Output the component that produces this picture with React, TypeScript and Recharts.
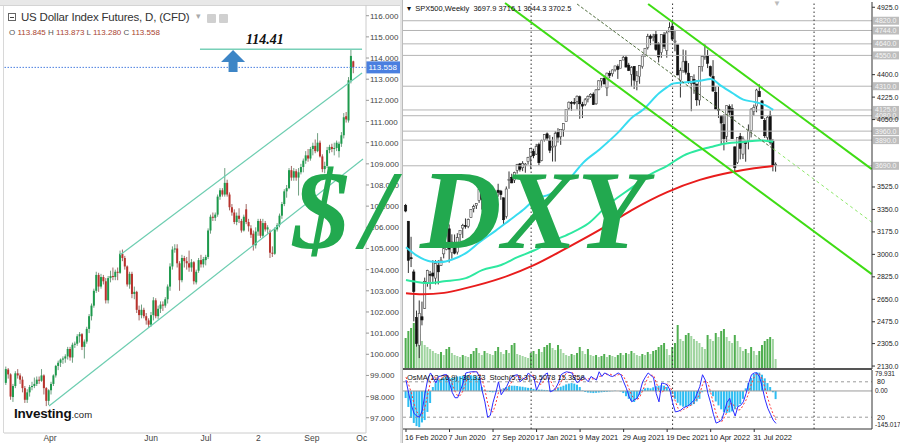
import React from 'react';
import { ComposedChart, Bar, Line, XAxis, YAxis, ReferenceLine, ReferenceDot, Cell } from 'recharts';

const SANS = '"Liberation Sans", Arial, sans-serif';
const SERIF = '"Liberation Serif", "Times New Roman", serif';

// ---------------- Left panel: US Dollar Index Futures, daily (o, h, l, c) ----------------
const dxyOHLC: [number, number, number, number][] = [
  [98.65, 99.42, 98.55, 99.3], [99.28, 99.35, 98.85, 99.05], [99.05, 99.1, 97.85, 98.0], [97.98, 98.6, 97.75, 98.5],
  [98.5, 99.2, 98.4, 99.1], [99.1, 99.3, 98.85, 99.0], [99.0, 99.1, 98.6, 98.8], [98.8, 98.95, 98.2, 98.4],
  [98.4, 98.5, 97.7, 97.85], [97.85, 98.35, 97.7, 98.2], [98.2, 98.55, 98.0, 98.45], [98.45, 98.7, 98.3, 98.5],
  [98.5, 98.9, 98.4, 98.6], [98.6, 98.95, 98.5, 98.8], [98.8, 98.95, 98.6, 98.75], [98.75, 99.3, 98.7, 99.0],
  [99.0, 99.05, 98.1, 98.4], [98.4, 98.45, 97.55, 97.8], [97.8, 98.35, 97.6, 98.3],
  [98.3, 98.7, 98.1, 98.6], [98.6, 99.05, 98.5, 99.0], [99.0, 99.5, 98.9, 99.45], [99.45, 99.7, 99.25, 99.6],
  [99.6, 99.8, 99.4, 99.75], [99.75, 99.9, 99.55, 99.8], [99.8, 100.0, 99.6, 99.9], [99.9, 100.35, 99.75, 100.25],
  [100.25, 100.35, 99.7, 99.85], [99.85, 100.55, 99.6, 100.45], [100.45, 100.6, 100.3, 100.5], [100.5, 100.95, 100.4, 100.85],
  [100.85, 101.05, 100.55, 100.95], [100.95, 101.0, 100.2, 100.35], [100.35, 100.7, 99.8, 100.6], [100.6, 101.3, 100.5, 101.2],
  [101.2, 101.9, 101.0, 101.8], [101.8, 102.4, 101.6, 102.3], [102.3, 103.1, 102.2, 103.0], [103.0, 103.9, 102.9, 103.75],
  [103.75, 103.85, 102.95, 103.2],
  [103.2, 103.8, 103.1, 103.65], [103.65, 103.75, 103.3, 103.45], [103.45, 103.6, 102.4, 102.55], [102.55, 103.7, 102.4, 103.6],
  [103.6, 103.95, 103.4, 103.7], [103.7, 104.1, 103.5, 103.65], [103.65, 104.0, 103.5, 103.9], [103.9, 104.1, 103.5, 103.85],
  [103.85, 104.9, 103.8, 104.75], [104.75, 104.95, 104.4, 104.55], [104.55, 104.65, 104.0, 104.15], [104.15, 104.2, 103.2, 103.3],
  [103.3, 103.9, 103.1, 103.8], [103.8, 103.9, 102.65, 102.85], [102.85, 103.2, 102.6, 102.95], [102.95, 103.0, 101.95, 102.1],
  [102.1, 102.3, 101.6, 101.85], [101.85, 102.35, 101.7, 102.1], [102.1, 102.2, 101.7, 101.8], [101.8, 101.95, 101.4, 101.6],
  [101.6, 101.7, 101.25, 101.4], [101.4, 102.0, 101.3, 101.85],
  [101.85, 102.7, 101.6, 102.55], [102.55, 102.65, 101.7, 101.8], [101.8, 102.3, 101.65, 102.15], [102.15, 102.5, 101.95, 102.35],
  [102.35, 102.5, 102.05, 102.3], [102.3, 102.7, 102.2, 102.6], [102.6, 103.3, 102.4, 103.2], [103.2, 104.3, 103.0, 104.15],
  [104.15, 105.1, 104.0, 104.95], [104.95, 105.2, 104.8, 105.0], [105.0, 105.2, 104.1, 104.3], [104.3, 104.4, 103.0, 103.5],
  [103.5, 104.7, 103.4, 104.55], [104.55, 104.65, 104.1, 104.4], [104.4, 104.6, 104.0, 104.3], [104.3, 104.9, 103.9, 104.1],
  [104.1, 104.5, 103.9, 104.35], [104.35, 104.4, 103.3, 103.45], [103.4, 104.0, 103.3, 103.9], [103.95, 104.55, 103.85, 104.45],
  [104.45, 104.7, 104.1, 104.25], [104.25, 104.6, 104.1, 104.5],
  [104.45, 104.7, 104.2, 104.6], [104.6, 105.95, 104.5, 105.85], [105.85, 106.6, 105.7, 106.5], [106.5, 106.7, 106.3, 106.45],
  [106.45, 106.7, 106.3, 106.6], [106.6, 107.55, 106.5, 107.45], [107.45, 107.85, 107.3, 107.75], [107.75, 107.85, 107.45, 107.55],
  [107.55, 108.8, 107.45, 108.1], [108.1, 108.25, 107.45, 107.55], [107.55, 107.65, 106.8, 106.95], [106.95, 107.1, 106.55, 106.7],
  [106.7, 106.85, 106.15, 106.25], [106.25, 106.7, 106.1, 106.55], [106.55, 106.9, 106.2, 106.4], [106.3, 106.4, 105.75, 105.85],
  [105.85, 106.6, 105.8, 106.5], [106.85, 107.1, 106.15, 106.25], [106.25, 106.4, 105.8, 106.05], [105.95, 106.1, 105.5, 105.65],
  [105.7, 105.85, 104.9, 105.15], [105.15, 106.0, 105.0, 105.8], [105.8, 106.4, 105.6, 106.3], [106.3, 106.4, 105.5, 105.6],
  [105.6, 106.4, 105.5, 106.2], [106.2, 106.3, 105.8, 105.9], [105.9, 106.1, 105.7, 106.0], [105.8, 105.9, 104.55, 104.8],
  [104.8, 105.1, 104.6, 104.75], [104.75, 106.0, 104.7, 105.9], [105.9, 106.2, 105.8, 106.1], [106.1, 106.65, 106.0, 106.55],
  [106.55, 107.2, 106.4, 107.1], [107.1, 107.8, 107.0, 107.7], [107.7, 108.0, 107.4, 107.85], [107.85, 108.8, 107.8, 108.7],
  [108.7, 108.9, 108.2, 108.35], [108.35, 108.8, 108.2, 108.65], [108.65, 108.75, 108.2, 108.35], [108.35, 108.8, 107.5, 108.6],
  [108.6, 109.0, 108.5, 108.85], [108.85, 109.25, 108.6, 109.15], [109.15, 109.6, 109.0, 109.4], [109.4, 109.7, 109.1, 109.25],
  [109.25, 109.8, 109.15, 109.7], [109.7, 110.0, 109.4, 109.85], [109.85, 110.15, 109.5, 109.6], [109.6, 110.45, 109.55, 110.0],
  [110.0, 110.1, 109.3, 109.35], [109.35, 109.45, 108.6, 108.75], [108.75, 109.1, 108.55, 108.9], [108.9, 109.8, 108.8, 109.65],
  [109.65, 109.9, 109.5, 109.8], [109.8, 109.95, 109.55, 109.7], [109.7, 110.0, 109.4, 109.75], [109.75, 110.1, 109.6, 110.0],
  [109.6, 110.05, 109.3, 109.95], [109.95, 110.5, 109.8, 110.35], [110.35, 111.4, 110.2, 111.2], [111.25, 111.45, 110.95, 111.1],
  [111.05, 113.1, 110.95, 112.95], [112.95, 114.41, 112.8, 114.1], [113.845, 113.873, 113.28, 113.558],
];
const dxyTickIdx = [18.5, 61, 84, 106, 128.5, 149.5];
const dxyTickLabels = ['Apr', 'Jun', 'Jul', '2', 'Sep', 'Oc'];
const dxyYTicks = [97, 98, 99, 100, 101, 102, 103, 104, 105, 106, 107, 108, 109, 110, 111, 112, 113, 114, 115, 116];
const dxyLast = 113.558;
const dxyPeak = 114.41;
const dxyPeakSpan = [81.5, 149.6];
const dxyChannelLow = [[18.07, 97.555], [150, 109.23]];
const dxyChannelHigh = [[47.9, 104.69], [149.6, 113.29]];
const dxyArrowAt = [95.4, 113.81];

// ---------------- Right panel: SPX500 weekly ----------------
const spxOHLC: [number, number, number, number][] = [
  [3380, 3393, 3328, 3338], [3258, 3260, 2855, 2954], [2974, 3137, 2901, 2972], [2863, 2882, 2478, 2711], [2508, 2562, 2281, 2305],
  [2291, 2641, 2192, 2541], [2514, 2632, 2447, 2489], [2579, 2819, 2575, 2790], [2782, 2880, 2748, 2875], [2845, 2871, 2727, 2837],
  [2855, 2955, 2785, 2831], [2815, 2955, 2766, 2930], [2915, 2955, 2766, 2864], [2914, 2980, 2910, 2955], [3004, 3068, 2969, 3044],
  [3038, 3211, 3032, 3194], [3199, 3233, 2936, 3041], [3014, 3156, 2966, 3097], [3094, 3155, 3000, 3009], [3018, 3165, 2999, 3130],
  [3155, 3184, 3101, 3185], [3205, 3238, 3127, 3224], [3224, 3280, 3200, 3216], [3219, 3279, 3204, 3271], [3288, 3352, 3284, 3351],
  [3356, 3387, 3327, 3372], [3380, 3399, 3354, 3397], [3419, 3509, 3401, 3508], [3509, 3588, 3349, 3426], [3369, 3425, 3293, 3341],
  [3363, 3429, 3317, 3319], [3295, 3320, 3209, 3298], [3334, 3393, 3324, 3348], [3367, 3482, 3345, 3477], [3500, 3550, 3449, 3483],
  [3493, 3502, 3425, 3465], [3441, 3441, 3233, 3270], [3296, 3529, 3279, 3509], [3583, 3646, 3511, 3585], [3600, 3628, 3554, 3557],
  [3579, 3644, 3556, 3638], [3654, 3705, 3629, 3699], [3705, 3712, 3645, 3663], [3675, 3726, 3648, 3709], [3693, 3712, 3636, 3703],
  [3723, 3760, 3699, 3756], [3764, 3827, 3663, 3824], [3803, 3823, 3749, 3768], [3781, 3861, 3775, 3841], [3855, 3870, 3694, 3714],
  [3731, 3894, 3725, 3886], [3892, 3937, 3879, 3934], [3939, 3950, 3884, 3906], [3886, 3929, 3789, 3811], [3842, 3915, 3723, 3842],
  [3844, 3960, 3723, 3943], [3949, 3983, 3871, 3913], [3916, 3956, 3853, 3974], [3969, 4020, 3917, 4019], [4034, 4130, 4034, 4128],
  [4139, 4191, 4124, 4185], [4183, 4194, 4118, 4180], [4185, 4218, 4165, 4181], [4192, 4238, 4129, 4232], [4228, 4237, 4056, 4173],
  [4169, 4188, 4062, 4155], [4168, 4218, 4155, 4204], [4210, 4238, 4184, 4230], [4230, 4255, 4218, 4247], [4248, 4262, 4165, 4166],
  [4173, 4287, 4165, 4281], [4285, 4356, 4278, 4352], [4351, 4372, 4301, 4370], [4372, 4393, 4328, 4327], [4297, 4415, 4233, 4412],
  [4409, 4430, 4372, 4395], [4407, 4440, 4385, 4437], [4437, 4469, 4424, 4468], [4462, 4480, 4367, 4441], [4450, 4513, 4450, 4509],
  [4514, 4546, 4513, 4535], [4535, 4549, 4458, 4459], [4474, 4492, 4428, 4433], [4402, 4466, 4306, 4455], [4465, 4466, 4288, 4357],
  [4348, 4429, 4278, 4391], [4385, 4475, 4329, 4471], [4463, 4559, 4447, 4545], [4553, 4608, 4537, 4605], [4610, 4718, 4596, 4697],
  [4701, 4714, 4630, 4682], [4689, 4718, 4660, 4698], [4712, 4743, 4586, 4595], [4640, 4652, 4495, 4538], [4572, 4713, 4531, 4712],
  [4710, 4732, 4600, 4620], [4588, 4740, 4532, 4725], [4733, 4808, 4733, 4766], [4778, 4818, 4662, 4677], [4655, 4749, 4582, 4662],
  [4632, 4632, 4395, 4398], [4357, 4454, 4222, 4432], [4431, 4596, 4415, 4500], [4505, 4590, 4401, 4419], [4412, 4490, 4329, 4349],
  [4332, 4385, 4115, 4385], [4363, 4402, 4251, 4329], [4327, 4327, 4157, 4204], [4202, 4465, 4161, 4463], [4462, 4546, 4424, 4543],
  [4541, 4637, 4516, 4545], [4547, 4594, 4451, 4488], [4462, 4471, 4381, 4392], [4385, 4513, 4268, 4272], [4262, 4308, 4129, 4132],
  [4130, 4307, 4063, 4123], [4082, 4082, 3859, 4023], [4013, 4091, 3810, 3901], [3920, 4159, 3875, 4158], [4151, 4168, 4074, 4108],
  [4135, 4169, 3901, 3901], [3838, 3838, 3637, 3675], [3715, 3913, 3705, 3912], [3920, 3946, 3740, 3825], [3781, 3919, 3743, 3899],
  [3880, 3886, 3722, 3863], [3883, 4012, 3818, 3962], [3966, 4140, 3911, 4130], [4112, 4167, 4079, 4145], [4155, 4290, 4107, 4280],
  [4270, 4325, 4260, 4228], [4195, 4203, 4057, 4057], [4043, 4062, 3907, 3924], [3910, 4077, 3887, 4068], [4084, 4119, 3855, 3873],
  [3880, 3899, 3647, 3693], [3697.9, 3716.1, 3644.3, 3702.5],
];
const spxVolume = [
  31, 38, 41, 46, 40, 35, 28, 24, 22, 20,
  18, 16, 15, 17, 14, 20, 22, 16, 14, 13,
  12, 14, 13, 12, 15, 18, 21, 16, 14, 18,
  16, 15, 14, 18, 22, 17, 15, 19, 16, 24,
  26, 15, 14, 13, 12, 11, 16, 18, 15, 20,
  17, 22, 24, 26, 21, 19, 24, 20, 16, 14,
  13, 15, 14, 16, 22, 18, 15, 20, 14, 13,
  14, 12, 13, 15, 12, 14, 13, 12, 14, 16,
  14, 16, 15, 18, 16, 14, 13, 15, 14, 17,
  15, 18, 19, 22, 24, 26, 20, 14, 22, 26,
  44, 30, 28, 34, 36, 33, 30, 28, 26, 22,
  20, 34, 30, 28, 36, 32, 38, 40, 32, 28,
  26, 34, 28, 22, 18, 20, 16, 22, 18, 14,
  18, 24, 28, 30, 32, 30, 10,
];
const spxOsma = [
  -27, -61, -103, -122, -134, -138, -120, -111, -80, -46,
  15, 30, 42, 46, 50, 53, 52, 50, 52, 55,
  56, 58, 60, 61, 60, 58, 55, 50, 15, 4,
  -2, -4, -5, -3, 2, 5, 10, 15, 18, 20,
  20, 19, 17, 16, 14, 12, 10, 8, 6, 5,
  5, 4, 3, 4, 3, 4, 12, 16, 20, 25,
  28, 30, 28, 24, 15, 2, -4, -6, -7, -8,
  -7, -6, -5, -4, -3, -2, -1, 1, 0, -2,
  -8, -20, -30, -38, -42, -30, -15, 5, 10, 12,
  10, 14, 18, 20, 22, 20, 15, 5, -12, -30,
  -45, -55, -60, -61, -58, -55, -50, -40, -30, -5,
  2, 0, -5, -20, -40, -55, -70, -80, -84, -82,
  -78, -70, -60, -50, -30, 10, 30, 50, 65, 72,
  70, 62, 48, 30, 15, -5, -31,
];
const spxStochMain = [
  83, 60, 40, 26, 22, 20, 32, 60, 85, 95,
  87, 78, 89, 90, 92, 92, 78, 62, 53, 53,
  65, 78, 95, 96, 97, 97, 97, 89, 65, 46,
  20, 23, 45, 61, 80, 58, 65, 72, 82, 89,
  91, 92, 80, 85, 87, 95, 90, 87, 66, 76,
  87, 92, 95, 63, 65, 69, 78, 92, 95, 97,
  96, 95, 85, 78, 83, 89, 85, 80, 89, 86,
  83, 97, 89, 95, 93, 90, 89, 92, 95, 92,
  80, 69, 55, 46, 50, 52, 63, 80, 88, 95,
  91, 87, 60, 46, 78, 77, 75, 66, 45, 29,
  30, 32, 36, 38, 40, 45, 49, 60, 72, 92,
  83, 60, 44, 25, 10, 12, 15, 29, 45, 52,
  35, 22, 38, 40, 46, 60, 78, 92, 95, 95,
  88, 70, 50, 35, 25, 15, 9.5,
];
const spxStochSignal = [
  88, 75, 61, 42, 29, 23, 25, 37, 59, 80,
  89, 87, 85, 86, 90, 91, 87, 77, 64, 56,
  57, 65, 79, 90, 96, 97, 97, 94, 84, 67,
  44, 30, 29, 43, 62, 66, 68, 65, 73, 81,
  87, 91, 88, 86, 84, 89, 91, 91, 81, 76,
  76, 85, 91, 83, 74, 66, 71, 80, 88, 95,
  96, 96, 92, 86, 82, 83, 86, 85, 85, 85,
  86, 89, 90, 94, 92, 93, 91, 90, 92, 93,
  89, 80, 68, 57, 50, 49, 55, 65, 77, 88,
  91, 91, 79, 64, 61, 67, 77, 73, 62, 47,
  35, 30, 33, 35, 38, 41, 45, 51, 60, 75,
  82, 78, 62, 43, 26, 16, 12, 19, 29, 42,
  44, 36, 32, 33, 41, 49, 61, 77, 88, 94,
  93, 84, 69, 52, 37, 25, 15.4,
];
// moving averages, read at a few weeks each: [week index, value]
const maFast: [number, number][] = [
  [0, 3055], [4, 2990], [9, 2945], [13, 2940], [17, 2960], [22, 3010], [27, 3094], [33, 3185], [38, 3265], [43, 3345],
  [47, 3421], [53, 3470], [57, 3522], [61, 3610], [65, 3711], [71, 3815], [78, 3950], [83, 4065], [87, 4124], [93, 4255],
  [96, 4303], [98, 4330], [104, 4343], [108, 4352], [112, 4366], [116, 4310], [120, 4257], [124, 4205], [128, 4188],
  [132, 4162], [135, 4125],
];
const maMid: [number, number][] = [
  [0, 2800], [4, 2785], [8, 2776], [14, 2790], [22, 2815], [28, 2877], [35, 2917], [41, 2978], [47, 3030], [53, 3095],
  [60, 3160], [67, 3240], [74, 3380], [83, 3520], [90, 3625], [96, 3690], [102, 3770], [108, 3815], [112, 3836],
  [116, 3858], [124, 3875], [130, 3888], [135, 3878],
];
const maSlow: [number, number][] = [
  [0, 2698], [6, 2690], [14, 2700], [22, 2737], [35, 2815], [47, 2916], [59, 3049], [71, 3189], [83, 3345], [96, 3485],
  [108, 3580], [120, 3641], [128, 3670], [135, 3688],
];
const spxLevels = [4820, 4744, 4640, 4550, 4310, 4125, 4080, 3960, 3890, 3690];
const spxYTicks = [4925, 4400, 4225, 4050, 3525, 3350, 3175, 3000, 2825, 2650, 2475, 2305, 2130];
const spxTickIdx = [0, 16, 32, 48, 64, 80, 96, 112, 128];
const spxTickLabels = ['16 Feb 2020', '7 Jun 2020', '27 Sep 2020', '17 Jan 2021', '9 May 2021', '29 Aug 2021', '19 Dec 2021', '10 Apr 2022', '31 Jul 2022'];
const spxYearLines = [46, 98, 150];
const spxChannelA = [[36.4, 4958], [171.2, 2846]];
const spxChannelB = [[89, 4950], [171.2, 3664]];
const spxMidline = [[62.9, 4950], [135, 3821]];
const spxMidlineExt = [[135, 3821], [171.2, 3251]];

// ---------------- tables built for the library ----------------
const dxyData = dxyOHLC.map((d, i) => ({ i, o: d[0], h: d[1], l: d[2], c: d[3] }));
const toMap = (arr: [number, number][]) => new Map(arr.map(([k, v]) => [k, v]));
const fastMap = toMap(maFast);
const midMap = toMap(maMid);
const slowMap = toMap(maSlow);
const spxData = spxOHLC.map((d, i) => ({
  i, o: d[0], h: d[1], l: d[2], c: d[3],
  v: spxVolume[i],
  osma: spxOsma[i],
  sm: spxStochMain[i],
  ss: spxStochSignal[i],
  fast: fastMap.has(i) ? fastMap.get(i) : null,
  mid: midMap.has(i) ? midMap.get(i) : null,
  slow: slowMap.has(i) ? slowMap.get(i) : null,
}));

const seg = (s: number[][]) => [{ x: s[0][0], y: s[0][1] }, { x: s[1][0], y: s[1][1] }];

// ---------------- shapes ----------------
const candleGeom = (p: any) => {
  const { x, y, width, height, payload } = p;
  const top = Math.min(y, y + height);
  const span = Math.abs(height);
  const k = payload.h > payload.l ? span / (payload.h - payload.l) : 0;
  const Y = (v: number) => top + (payload.h - v) * k;
  return { cx: x + width / 2, top, span, Y };
};

const DxyCandle = (p: any) => {
  if (!p.payload) return null;
  const { o, c } = p.payload;
  const { cx, top, span, Y } = candleGeom(p);
  const up = c >= o;
  const bt = Y(Math.max(o, c));
  const bb = Y(Math.min(o, c));
  return (
    <g>
      <line x1={cx} x2={cx} y1={top} y2={top + span} stroke={up ? '#6f9f80' : '#a06a66'} strokeWidth={1} />
      <rect x={cx - 1} y={bt} width={2} height={Math.max(1, bb - bt)} fill={up ? '#1d9a4c' : '#b8322c'} />
    </g>
  );
};

const SpxCandle = (p: any) => {
  if (!p.payload) return null;
  const { o, c } = p.payload;
  const { cx, top, span, Y } = candleGeom(p);
  const up = c >= o;
  const bt = Y(Math.max(o, c));
  const bb = Y(Math.min(o, c));
  return (
    <g>
      <line x1={cx} x2={cx} y1={top} y2={top + span} stroke="#333" strokeWidth={1} />
      <rect x={cx - 1.1} y={bt} width={2.2} height={Math.max(1, bb - bt)} fill={up ? '#f4f4f4' : '#111'} stroke={up ? '#444' : '#111'} strokeWidth={0.6} />
    </g>
  );
};

const Arrow = (p: any) => {
  const { cx, cy } = p;
  if (cx == null) return null;
  const d = `M ${cx} ${cy - 12} L ${cx + 12} ${cy} L ${cx + 4.5} ${cy} L ${cx + 4.5} ${cy + 10} L ${cx - 4.5} ${cy + 10} L ${cx - 4.5} ${cy} L ${cx - 12} ${cy} Z`;
  return <path d={d} fill="#3d85c6" />;
};

// ---------------- ticks & labels ----------------
const LeftYTick = (p: any) => (
  <g>
    <line x1={366} x2={369} y1={p.y} y2={p.y} stroke="#999" />
    <text x={370} y={p.y + 3} fontSize={8} fill="#444" fontFamily={SANS}>{Number(p.payload.value).toFixed(3)}</text>
  </g>
);
const LeftXTick = (p: any) => {
  const k = dxyTickIdx.indexOf(p.payload.value);
  return <text x={p.x} y={441} textAnchor="middle" fontSize={8.5} fill="#444" fontFamily={SANS}>{dxyTickLabels[k]}</text>;
};
const LastPriceTag = (p: any) => {
  const vb = p.viewBox;
  if (!vb) return null;
  const x = vb.x + vb.width;
  return (
    <g>
      <rect x={x} y={vb.y - 6} width={34} height={12} fill="#4a7fe0" />
      <text x={x + 2.5} y={vb.y + 3} fontSize={8} fill="#fff" fontFamily={SANS}>{dxyLast.toFixed(3)}</text>
    </g>
  );
};
const PeakLabel = (p: any) => {
  const vb = p.viewBox;
  if (!vb) return null;
  return (
    <text x={vb.x + vb.width * 0.4} y={vb.y - 5} textAnchor="middle" fontSize={14} fontWeight="bold" fontStyle="italic" fill="#111" fontFamily={SERIF}>
      {dxyPeak.toFixed(2)}
    </text>
  );
};
const RightYTick = (p: any) => (
  <g>
    <line x1={469} x2={472} y1={p.y} y2={p.y} stroke="#333" />
    <text x={474} y={p.y + 2.5} fontSize={7} fill="#222" fontFamily={SANS}>{Number(p.payload.value).toFixed(1)}</text>
  </g>
);
const LevelTag = (p: any) => {
  const vb = p.viewBox;
  if (!vb) return null;
  const x = vb.x + vb.width;
  return (
    <g>
      <rect x={x + 1} y={vb.y - 4} width={26} height={8} fill="#bdbdbd" />
      <text x={x + 3} y={vb.y + 2.5} fontSize={7} fill="#f6f6f6" fontFamily={SANS}>{p.val.toFixed(1)}</text>
    </g>
  );
};
const OscYTick = (p: any) => {
  const v = Number(p.payload.value);
  const yy = Math.min(Math.max(p.y, 4), 55);
  return <text x={472} y={yy + 2.5} fontSize={6.5} fill="#222" fontFamily={SANS}>{v === 0 ? '0.00' : v.toFixed(3)}</text>;
};
const StochTag = (p: any) => {
  const vb = p.viewBox;
  if (!vb) return null;
  return <text x={vb.x + vb.width + 5} y={vb.y + 2.5} fontSize={7} fill="#222" fontFamily={SANS}>{p.val}</text>;
};
const RightXTick = (p: any) => {
  const k = spxTickIdx.indexOf(p.payload.value);
  return <text x={p.x - 1} y={71} textAnchor="start" fontSize={7.5} fill="#222" fontFamily={SANS}>{spxTickLabels[k]}</text>;
};

const abs = (l: number, t: number, extra: any = {}) => ({ position: 'absolute' as const, left: l, top: t, ...extra });
const bigText = { fontFamily: SERIF, fontSize: 113, fontWeight: 'bold', fontStyle: 'italic', color: '#22a94f', lineHeight: '113px', whiteSpace: 'nowrap' };

export default function App() {
  const XD: [number, number] = [-1.1, 171.3];
  return (
    <div style={{ position: 'absolute', left: 0, top: 0, width: 900, height: 443, background: '#fff', overflow: 'hidden', fontFamily: SANS }}>
      {/* chrome */}
      <div style={abs(0, 0, { width: 400, height: 5, background: '#e8e8e8', borderBottom: '1px solid #d4d4d4' })} />
      <div style={abs(3, 6, { width: 1, height: 427, background: '#d8d8d8' })} />
      <div style={abs(400, 0, { width: 3, height: 443, background: '#e4e4e4' })} />

      {/* Left chart */}
      <div style={abs(0, 0)}>
        <ComposedChart width={400} height={443} data={dxyData} margin={{ top: 5, right: 0, bottom: 0, left: 4 }}>
          <XAxis dataKey="i" type="number" domain={[-0.84, 151.26]} allowDataOverflow ticks={dxyTickIdx} interval={0}
            tick={<LeftXTick />} height={10} axisLine={{ stroke: '#ccc' }} tickLine={false} />
          <YAxis orientation="right" type="number" domain={[96.28, 116.506]} allowDataOverflow ticks={dxyYTicks} interval={0}
            width={34} tick={<LeftYTick />} axisLine={{ stroke: '#ccc' }} tickLine={false} />
          <ReferenceLine segment={seg(dxyChannelLow)} stroke="#6ccdb0" strokeWidth={1.2} />
          <ReferenceLine segment={seg(dxyChannelHigh)} stroke="#6ccdb0" strokeWidth={1.2} />
          <ReferenceLine y={dxyLast} stroke="#4a7fe0" strokeDasharray="1.5 1.5" strokeWidth={1} label={<LastPriceTag />} />
          <Bar dataKey={(d: any) => [d.l, d.h]} barSize={2} shape={<DxyCandle />} isAnimationActive={false} />
          <ReferenceLine segment={[{ x: dxyPeakSpan[0], y: dxyPeak }, { x: dxyPeakSpan[1], y: dxyPeak }]} stroke="#78d0b8" strokeWidth={1.5} label={<PeakLabel />} />
          <ReferenceDot x={dxyArrowAt[0]} y={dxyArrowAt[1]} r={1} shape={<Arrow />} />
        </ComposedChart>
      </div>

      {/* Left chart text */}
      <div style={abs(8, 13, { width: 8, height: 8, border: '1px solid #666', boxSizing: 'border-box' })}>
        <div style={abs(1, 2.5, { width: 4, height: 1, background: '#444' })} />
      </div>
      <div style={abs(21, 11, { fontSize: 11.5, color: '#333', whiteSpace: 'nowrap', letterSpacing: -0.2 })}>US Dollar Index Futures, D, (CFD)</div>
      <div style={abs(196, 11, { fontSize: 9, color: '#aaa' })}>▾</div>
      <div style={abs(207, 14, { width: 9, height: 9, background: '#d0d0d0', borderRadius: 1 })} />
      <div style={abs(219, 14, { width: 9, height: 9, background: '#d0d0d0', borderRadius: 1 })} />
      <div style={abs(9, 28, { fontSize: 8, color: '#a9432f', whiteSpace: 'nowrap' })}>
        <span style={{ color: '#555' }}>O</span> 113.845 <span style={{ color: '#555' }}>H</span> 113.873{' '}
        <span style={{ color: '#555' }}>L</span> 113.280 <span style={{ color: '#555' }}>C</span> 113.558
      </div>
      <div style={abs(14, 404, { whiteSpace: 'nowrap', color: '#111' })}>
        <span style={{ fontSize: 13.5, fontWeight: 'bold', letterSpacing: -0.2 }}>Investing</span>
        <span style={{ fontSize: 9.5, color: '#222' }}>.com</span>
      </div>

      {/* Right main chart */}
      <div style={abs(402, 0, { width: 1, height: 443, background: '#bbb' })} />
      <div style={abs(403, 0)}>
        <ComposedChart width={497} height={369} data={spxData} margin={{ top: 2, right: 0, bottom: 0, left: 0 }}>
          <XAxis dataKey="i" type="number" domain={XD} allowDataOverflow hide />
          <XAxis xAxisId="vx" dataKey="i" type="number" domain={XD} allowDataOverflow hide />
          <YAxis orientation="right" type="number" domain={[2107, 4966]} allowDataOverflow ticks={spxYTicks} interval={0}
            width={28} tick={<RightYTick />} axisLine={{ stroke: '#333' }} tickLine={false} />
          <YAxis yAxisId="vol" hide domain={[0, 367]} />
          {spxLevels.map((lv) => (
            <ReferenceLine key={lv} y={lv} stroke="#b4b4b4" strokeWidth={1} label={<LevelTag val={lv} />} />
          ))}
          {spxYearLines.map((x) => (
            <ReferenceLine key={x} x={x} stroke="#333" strokeDasharray="1.5 2.5" strokeWidth={1} />
          ))}
          <Bar xAxisId="vx" yAxisId="vol" dataKey="v" barSize={2} isAnimationActive={false}>
            {spxData.map((d, i) => (
              <Cell key={i} fill={i > 0 && d.v < spxData[i - 1].v ? '#9fd49f' : '#4fae4f'} />
            ))}
          </Bar>
          <Bar dataKey={(d: any) => [d.l, d.h]} barSize={2} shape={<SpxCandle />} isAnimationActive={false} />
          <Line dataKey="slow" stroke="#e81c1c" strokeWidth={2} dot={false} connectNulls type="monotone" isAnimationActive={false} />
          <Line dataKey="mid" stroke="#2ee8a0" strokeWidth={2} dot={false} connectNulls type="monotone" isAnimationActive={false} />
          <Line dataKey="fast" stroke="#38dcf0" strokeWidth={2} dot={false} connectNulls type="monotone" isAnimationActive={false} />
          <ReferenceLine segment={seg(spxMidline)} stroke="#4d6b3a" strokeDasharray="3 2" strokeWidth={1} />
          <ReferenceLine segment={seg(spxMidlineExt)} stroke="#8ee86a" strokeDasharray="3 3" strokeWidth={1} />
          <ReferenceLine segment={seg(spxChannelA)} stroke="#3fdc14" strokeWidth={2} />
          <ReferenceLine segment={seg(spxChannelB)} stroke="#3fdc14" strokeWidth={2} />
        </ComposedChart>
      </div>
      <div style={abs(407, 4, { fontSize: 7.5, color: '#111', whiteSpace: 'nowrap' })}>▾&nbsp;&nbsp;SPX500,Weekly&nbsp;&nbsp;3697.9 3716.1 3644.3 3702.5</div>
      <div style={abs(773, -1, { fontSize: 8, color: '#bbb' })}>▼</div>
      <div style={abs(403, 368, { width: 469, height: 2, background: '#555' })} />

      {/* Oscillator panel */}
      <div style={abs(403, 369)}>
        <ComposedChart width={497} height={74} data={spxData} margin={{ top: 1, right: 0, bottom: 0, left: 0 }}>
          <XAxis dataKey="i" type="number" domain={XD} allowDataOverflow ticks={spxTickIdx} interval={0}
            tick={<RightXTick />} height={14} axisLine={{ stroke: '#333' }} tickLine={{ stroke: '#333' }} tickSize={3} />
          <YAxis yAxisId="os" orientation="right" type="number" domain={[-145.017, 79.931]} allowDataOverflow
            ticks={[79.931, 0, -145.017]} interval={0} width={28} tick={<OscYTick />} axisLine={{ stroke: '#333' }} tickLine={false} />
          <YAxis yAxisId="st" hide type="number" domain={[0, 100]} />
          <ReferenceLine yAxisId="os" y={0} stroke="#9a9a9a" strokeWidth={1} />
          <ReferenceLine yAxisId="st" y={80} stroke="#9a9a9a" strokeDasharray="3 3" label={<StochTag val="80" />} />
          <ReferenceLine yAxisId="st" y={20} stroke="#9a9a9a" strokeDasharray="3 3" label={<StochTag val="20" />} />
          {spxYearLines.map((x) => (
            <ReferenceLine key={x} yAxisId="os" x={x} stroke="#333" strokeDasharray="1.5 2.5" strokeWidth={1} />
          ))}
          <Bar yAxisId="os" dataKey="osma" fill="#2cbdf2" barSize={2} isAnimationActive={false} />
          <Line yAxisId="st" dataKey="ss" stroke="#ff3b3b" strokeDasharray="2 2" strokeWidth={1} dot={false} isAnimationActive={false} />
          <Line yAxisId="st" dataKey="sm" stroke="#2b2bff" strokeWidth={1} dot={false} isAnimationActive={false} />
        </ComposedChart>
      </div>
      <div style={abs(407, 373, { fontSize: 7.5, color: '#111', whiteSpace: 'nowrap' })}>OsMA(12,26,9) -30.333&nbsp;&nbsp;Stoch(5,3,3) 9.5078 15.3858</div>

      {/* overlay title */}
      <div style={abs(293, 153, bigText)}>$</div>
      <div style={abs(362, 153, bigText)}>/</div>
      <div style={abs(420, 153, bigText)}>DXY</div>
    </div>
  );
}
